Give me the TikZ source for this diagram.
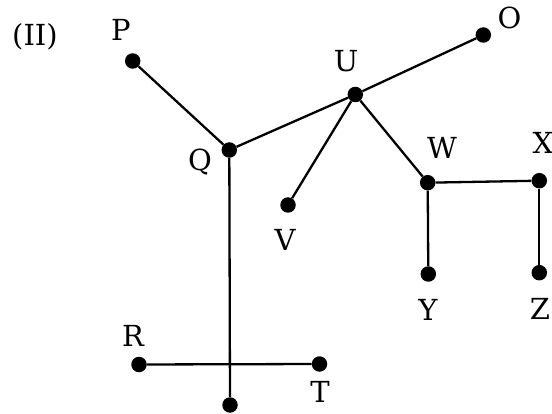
\documentclass[tikz,border=0pt]{standalone}
\usepackage{fontspec}
\setmainfont{DejaVu Serif}
\begin{document}
\begin{tikzpicture}[x=1pt,y=-1pt,
  vertex/.style={circle,fill=black,inner sep=0pt,minimum size=15.5pt},
  edge/.style={line width=2.3pt,black},
  lbl/.style={inner sep=0pt,font=\fontsize{29}{34}\selectfont}]
  \useasboundingbox (0,0) rectangle (552,414);
  % vertices
  \node[vertex] (P) at (132.7,61) {};
  \node[vertex] (Q) at (229.3,150) {};
  \node[vertex] (U) at (355.3,94.5) {};
  \node[vertex] (O) at (483.3,35) {};
  \node[vertex] (V) at (288,205) {};
  \node[vertex] (W) at (427.7,182.7) {};
  \node[vertex] (X) at (539.3,180.7) {};
  \node[vertex] (Y) at (428.3,274) {};
  \node[vertex] (Z) at (539.3,272.7) {};
  \node[vertex] (R) at (139,364.5) {};
  \node[vertex] (T) at (319.5,364) {};
  \node[vertex] (B) at (230,405) {};
  % edges
  \draw[edge] (P) -- (Q);
  \draw[edge] (Q) -- (U);
  \draw[edge] (U) -- (O);
  \draw[edge] (U) -- (V);
  \draw[edge] (U) -- (W);
  \draw[edge] (W) -- (X);
  \draw[edge] (W) -- (Y);
  \draw[edge] (X) -- (Z);
  \draw[edge] (Q) -- (B);
  \draw[edge] (R) -- (T);
  % labels
  \node[lbl] (tII) at (35,37) {(II)};
  \node[lbl] (lP) at (121,30) {P};
  \node[lbl] (lQ) at (200,162) {Q};
  \node[lbl] (lU) at (346,61) {U};
  \node[lbl] (lO) at (509.5,18) {O};
  \node[lbl] (lV) at (285,240) {V};
  \node[lbl] (lW) at (442,148) {W};
  \node[lbl] (lX) at (543,143) {X};
  \node[lbl] (lY) at (428,310) {Y};
  \node[lbl] (lZ) at (540,309) {Z};
  \node[lbl] (lR) at (133,336) {R};
  \node[lbl] (lT) at (320,392) {T};
\end{tikzpicture}
\end{document}
